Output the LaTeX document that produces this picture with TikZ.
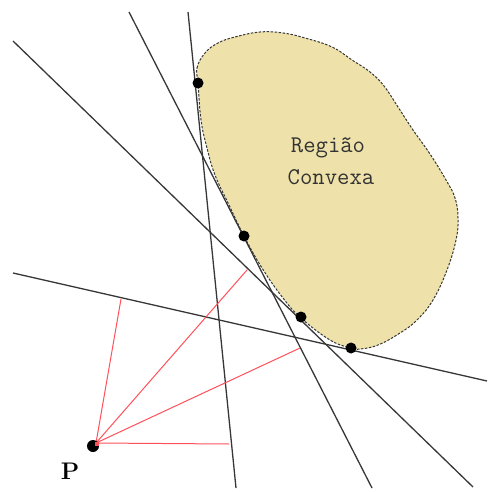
\documentclass[tikz,border=0pt]{standalone}
\usepackage{fontspec}
\definecolor{regionfill}{RGB}{238,226,170}
\definecolor{lineclr}{RGB}{55,55,55}
\definecolor{redclr}{RGB}{255,80,90}
\begin{document}
\begin{tikzpicture}[x=1pt,y=-1pt,
  tline/.style={draw=lineclr, line width=1.3pt},
  rline/.style={draw=redclr, line width=1pt},
  dot/.style={circle, fill=black, inner sep=0pt, minimum size=11pt},
  region/.style={fill=regionfill, draw=lineclr, line width=1pt,
    dash pattern=on 2.5pt off 1.5pt},
  lbl/.style={font=\ttfamily\addfontfeatures{FakeBold=2}\fontsize{24}{30}\selectfont, text=black!80, inner sep=0pt, anchor=base}]
\useasboundingbox (0,0) rectangle (488,492);
% convex region
\path[region] plot[smooth cycle, tension=0.7] coordinates {
  (198,83) (197,68) (205,53) (218,43) (235,37) (260,32) (283,33) (305,38)
  (332,47) (352,60) (370,72) (384,86) (398,107) (413,130) (430,154) (446,180)
  (455,198) (458,218) (456,240) (447,270) (433,300) (417,320) (400,333)
  (378,345) (360,349) (351,348) (330,340) (301,318) (283,298) (262,268)
  (244,236) (229,205) (215,175) (207,148) (201,120)};
\node[lbl] (reg1) at (328,152) {Região};
\node[lbl] (reg2) at (331,184) {Convexa};
% tangent lines
\coordinate (A1) at (188,12);  \coordinate (A2) at (236,488);
\coordinate (B1) at (129,12);  \coordinate (B2) at (372,488);
\coordinate (C1) at (13,41);   \coordinate (C2) at (473,487);
\coordinate (D1) at (13,273);  \coordinate (D2) at (487,381);
\draw[tline] (A1) -- (A2);
\draw[tline] (B1) -- (B2);
\draw[tline] (C1) -- (C2);
\draw[tline] (D1) -- (D2);
% red segments
\coordinate (Pc) at (96,443);
\coordinate (FA) at (229,444);
\coordinate (FB) at (300,348);
\coordinate (FC) at (247,270);
\coordinate (FD) at (121,299);
\draw[rline] (Pc) -- (FA);
\draw[rline] (Pc) -- (FB);
\draw[rline] (Pc) -- (FC);
\draw[rline] (Pc) -- (FD);
% tangent points
\node[dot] (t1) at (198,83) {};
\node[dot] (t2) at (244,236) {};
\node[dot] (t3) at (301,317) {};
\node[dot] (t4) at (351,348) {};
\node[dot, minimum size=12pt] (P) at (93,446) {};
\fill[redclr] (95,442) rectangle (99,446);
\node[font=\bfseries\fontsize{24}{26}\selectfont, inner sep=0pt, anchor=base] (Plbl) at (70,479) {P};
\end{tikzpicture}
\end{document}
